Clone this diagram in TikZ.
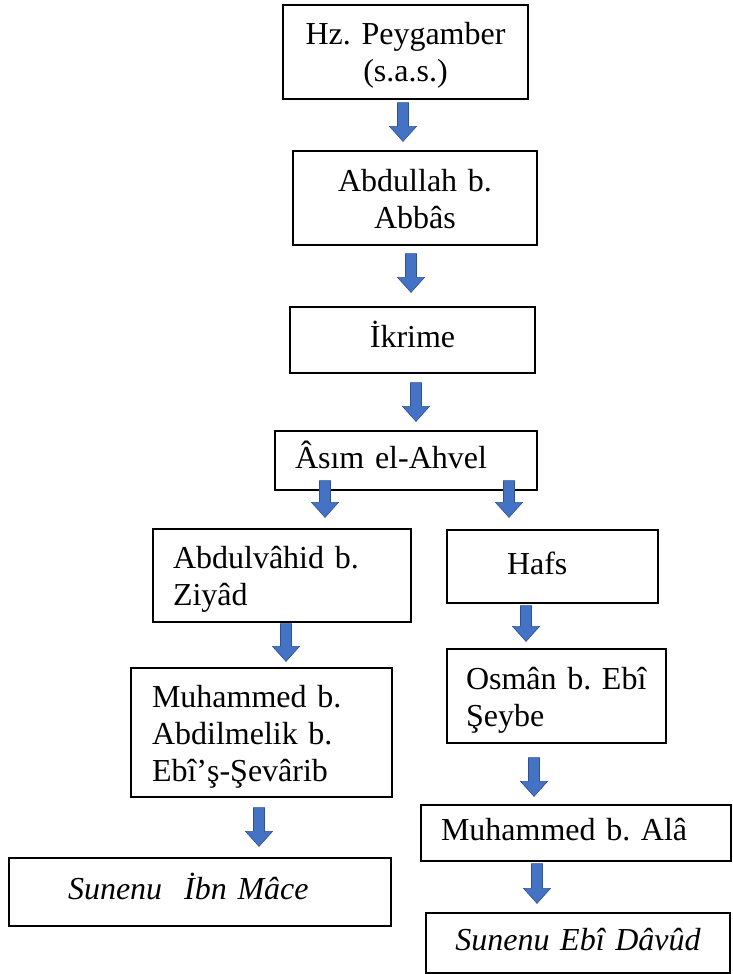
\documentclass[tikz,border=0pt]{standalone}
\usepackage{fontspec}
\setmainfont{Liberation Serif}
\usetikzlibrary{calc}

\definecolor{arrowfill}{HTML}{4472C4}
\definecolor{arrowedge}{HTML}{2F528F}

\newcommand{\isnadfont}{\fontsize{32}{37}\selectfont\frenchspacing}

\tikzset{
  isnad/.style={draw, line width=1.2pt, inner xsep=5pt, inner ysep=0pt, font=\isnadfont},
  oneline/.style={text height=22pt, text depth=7pt},
  twolines/.style={text height=26pt, text depth=40pt},
  threelines/.style={text height=26pt, text depth=77pt},
  downarrow/.style={draw=arrowedge, fill=arrowfill, line width=0.6pt,
    to path={let \p1=(\tikztostart), \p2=(\tikztotarget) in
      (\x1-5.5pt,\y1) -- (\x1+5.5pt,\y1) -- (\x1+5.5pt,\y2+15pt) -- (\x1+13.5pt,\y2+15pt)
      -- (\x1,\y2) -- (\x1-13.5pt,\y2+15pt) -- (\x1-5.5pt,\y2+15pt) -- cycle}}
}

\begin{document}
\begin{tikzpicture}[x=1pt, y=-1pt]

\useasboundingbox (0,0) rectangle (733,974);

% main chain
\node[isnad, twolines, align=center, minimum width=245pt, minimum height=94pt, text width=235pt] (peygamber) at (405.5,52) {Hz. Peygamber\\(s.a.s.)};
\node[isnad, twolines, align=center, minimum width=244pt, minimum height=94pt, text width=234pt] (abbas) at (415,198) {Abdullah b.\\Abbâs};
\node[isnad, oneline, align=center, minimum width=245pt, minimum height=66pt, text width=235pt] (ikrime) at (412.5,340) {İkrime};
\node[isnad, oneline, align=left, minimum width=262pt, minimum height=59pt, inner xsep=20pt, text width=222pt] (asim) at (406,460.5) {Âsım el-Ahvel};

% left branch
\node[isnad, twolines, align=left, minimum width=258pt, minimum height=93pt, inner xsep=20pt, text width=218pt] (ziyad) at (282,575.5) {Abdulvâhid b.\\Ziyâd};
\node[isnad, threelines, align=left, minimum width=261pt, minimum height=129pt, inner xsep=21pt, text width=219pt] (sevarib) at (261.5,732.5) {Muhammed b.\\Abdilmelik b.\\Ebî’ş-Şevârib};
\node[isnad, oneline, align=left, minimum width=382pt, minimum height=68pt, inner xsep=59pt, text width=264pt, font=\isnadfont\itshape] (ibnmace) at (200,892) {Sunenu\hspace{22pt}İbn Mâce};

% right branch
\node[isnad, oneline, align=left, minimum width=211pt, minimum height=73pt, inner xsep=60pt, text width=91pt] (hafs) at (552.5,566.5) {Hafs};
\node[isnad, twolines, align=left, minimum width=219pt, minimum height=94pt, inner xsep=19pt, text width=181pt] (seybe) at (556.5,696) {Osmân b. Ebî\\Şeybe};
\node[isnad, oneline, align=left, minimum width=310pt, minimum height=56pt, inner xsep=20pt, text width=270pt] (ala) at (576,833) {Muhammed b. Alâ};
\node[isnad, oneline, align=center, minimum width=304pt, minimum height=60pt, text width=294pt, font=\isnadfont\itshape] (ebidavud) at (578,943) {Sunenu Ebî Dâvûd};

% arrows
\draw[downarrow] ([xshift=-2.5pt,yshift=-3pt]peygamber.south) to ([yshift=9pt]abbas.north);
\draw[downarrow] ([xshift=-4pt,yshift=-8pt]abbas.south) to ([yshift=14pt]ikrime.north);
\draw[downarrow] ([xshift=3.5pt,yshift=-9pt]ikrime.south) to ([yshift=9pt]asim.north);
\draw[downarrow] ([xshift=-81pt,yshift=10pt]asim.south) to ([yshift=11pt]ziyad.north);
\draw[downarrow] ([xshift=103pt,yshift=10pt]asim.south) to ([yshift=12pt]hafs.north);
\draw[downarrow] ([xshift=4pt,yshift=-1pt]ziyad.south) to ([yshift=6pt]sevarib.north);
\draw[downarrow] ([xshift=-2.5pt,yshift=-10pt]sevarib.south) to ([yshift=11pt]ibnmace.north);
\draw[downarrow] ([xshift=-26.5pt,yshift=-2pt]hafs.south) to ([yshift=7pt]seybe.north);
\draw[downarrow] ([xshift=-22.5pt,yshift=-14pt]seybe.south) to ([yshift=8pt]ala.north);
\draw[downarrow] ([xshift=-39pt,yshift=-2pt]ala.south) to ([yshift=9pt]ebidavud.north);

\end{tikzpicture}
\end{document}
